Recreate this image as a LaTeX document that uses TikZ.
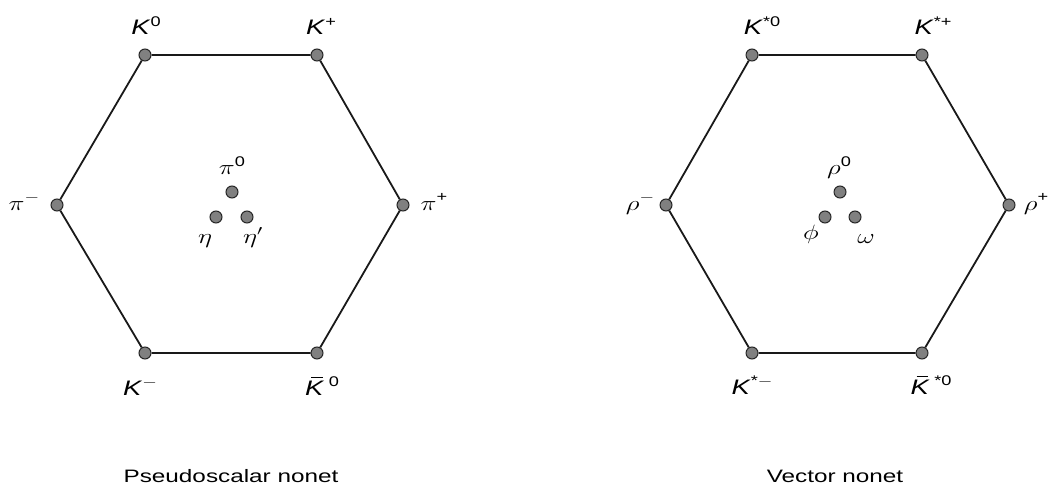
\documentclass[tikz,border=0pt]{standalone}
\usepackage{amsmath}
\usepackage{fontspec}
\setmainfont{Liberation Sans}
\newcommand\wx[1]{\scalebox{1.3}[1]{#1}}
\newcommand\KK{\textit{K}}
\newcommand\Kbar{\makebox[0pt][l]{\hspace{0.22em}\rule[0.82em]{0.42em}{0.06em}}\KK}
\newcommand\up[1]{\raisebox{0.42em}{\fontsize{14}{16}\selectfont #1}}
\begin{document}
\begin{tikzpicture}[x=1pt,y=-1pt,
  pt/.style={circle,draw=black!85,fill=black!50,line width=1pt,inner sep=0pt,minimum size=12pt},
  edge/.style={line width=1.8pt,black!90},
  lab/.style={font=\fontsize{21}{24}\selectfont,inner sep=0pt,anchor=base},
  title/.style={font=\fontsize{18}{21}\selectfont,inner sep=0pt,anchor=base}]
\useasboundingbox (0,0) rectangle (1056,489);
% left hexagon
\node[pt] (a1) at (145,55) {};
\node[pt] (a2) at (317,55) {};
\node[pt] (a3) at (403,205) {};
\node[pt] (a4) at (317,353) {};
\node[pt] (a5) at (145,353) {};
\node[pt] (a6) at (57,205) {};
\draw[edge] (a1)--(a2)--(a3)--(a4)--(a5)--(a6)--(a1);
\node[pt] (a7) at (232,192) {};
\node[pt] (a8) at (216,217) {};
\node[pt] (a9) at (247,217) {};
\node[lab] (la1) at (146,35) {\wx{\KK\up{0}}};
\node[lab] (la2) at (321,35) {\wx{\KK\up{+}}};
\node[lab] (la6) at (24,210) {\wx{$\pi$\up{$-$}}};
\node[lab] (la3) at (434,210) {\wx{$\pi$\up{+}}};
\node[lab] (la5) at (140,395) {\wx{\KK\up{$-$}}};
\node[lab] (la4) at (322,395) {\wx{\Kbar\,\up{0}}};
\node[lab] (la7) at (232,175) {\wx{$\pi$\up{0}}};
\node[lab] (la8) at (205,243) {\wx{$\eta$}};
\node[lab] (la9) at (253,243) {\wx{$\eta'$}};
\node[title] (ta) at (231,482) {\scalebox{1.35}[1]{Pseudoscalar nonet}};
% right hexagon
\node[pt] (b1) at (752,55) {};
\node[pt] (b2) at (922,55) {};
\node[pt] (b3) at (1009,205) {};
\node[pt] (b4) at (922,353) {};
\node[pt] (b5) at (752,353) {};
\node[pt] (b6) at (666,205) {};
\draw[edge] (b1)--(b2)--(b3)--(b4)--(b5)--(b6)--(b1);
\node[pt] (b7) at (840,192) {};
\node[pt] (b8) at (825,217) {};
\node[pt] (b9) at (855,217) {};
\node[lab] (lb1) at (762,35) {\wx{\KK\up{*0}}};
\node[lab] (lb2) at (933,35) {\wx{\KK\up{*+}}};
\node[lab] (lb6) at (640,210) {\wx{$\rho$\up{$-$}}};
\node[lab] (lb3) at (1036,210) {\wx{$\rho$\up{+}}};
\node[lab] (lb5) at (752,394) {\wx{\KK\up{*$-$}}};
\node[lab] (lb4) at (931,394) {\wx{\Kbar\,\up{*0}}};
\node[lab] (lb7) at (839,175) {\wx{$\rho$\up{0}}};
\node[lab] (lb8) at (811,239) {\wx{$\phi$}};
\node[lab] (lb9) at (866,243) {\wx{$\omega$}};
\node[title] (tb) at (835,482) {\scalebox{1.35}[1]{Vector nonet}};
\end{tikzpicture}
\end{document}
